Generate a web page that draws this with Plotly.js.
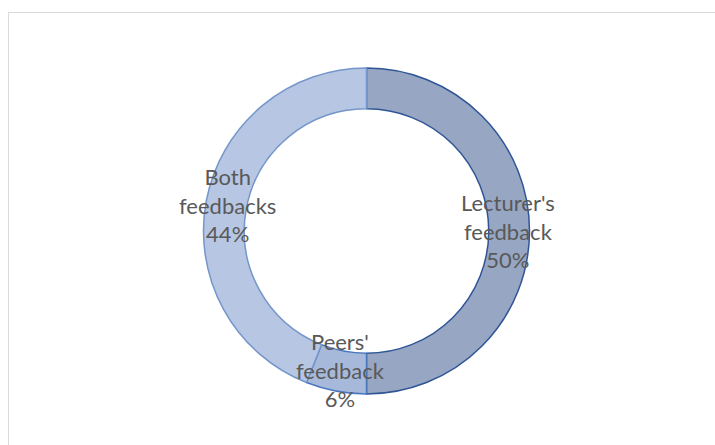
<!DOCTYPE html>
<html>
<head>
<meta charset="utf-8">
<script src="https://cdn.plot.ly/plotly-3.0.1.min.js"></script>
<style>
  html, body { margin: 0; padding: 0; background: #ffffff; overflow: hidden; }
  #chart { width: 715px; height: 445px; position: absolute; left: 0; top: 0; }
  #frame { position: absolute; left: 8px; top: 12px; width: 760px; height: 500px;
           border-left: 1.5px solid #d9d9d9; border-top: 1.5px solid #d9d9d9; pointer-events: none; }
</style>
</head>
<body>
<div id="chart"></div>
<div id="frame"></div>
<script>
// Data
const categories = ["Lecturer's feedback", "Peers' feedback", "Both feedbacks"];
const labelLines = [["Lecturer's", "feedback"], ["Peers'", "feedback"], ["Both", "feedbacks"]];
const values = [50, 6, 44];

// Styles
const sliceColors = ["#97a6c3", "#a7b9db", "#b6c6e3"];
const lineColors = ["#2f5597", "#4a78bd", "#7596ca"];

const W = 715, H = 445;
const cx = 366.5, cy = 231, R = 163;
const hole = 0.75;
const labelR = 141;

const total = values.reduce((a, b) => a + b, 0);
let cum = 0;
const annotations = values.map((v, i) => {
  const mid = (cum + v / 2) / total;
  cum += v;
  const ang = 2 * Math.PI * mid;
  const px = cx + labelR * Math.sin(ang);
  const py = cy - labelR * Math.cos(ang);
  const pct = Math.round(v / total * 100) + "%";
  return {
    x: px / W, y: 1 - py / H, xref: "paper", yref: "paper",
    text: labelLines[i].concat([pct]).join("<br>"),
    showarrow: false, xanchor: "center", yanchor: "middle",
    font: { family: "Lato, 'Liberation Sans', sans-serif", size: 22, color: "#595959" }
  };
});

const trace = {
  type: "pie",
  labels: categories,
  values: values,
  hole: hole,
  sort: false,
  direction: "clockwise",
  rotation: 0,
  textinfo: "none",
  hoverinfo: "none",
  marker: { colors: sliceColors, line: { color: lineColors, width: 1.5 } },
  domain: { x: [(cx - R) / W, (cx + R) / W], y: [1 - (cy + R) / H, 1 - (cy - R) / H] }
};

const layout = {
  width: W, height: H,
  margin: { l: 0, r: 0, t: 0, b: 0 },
  paper_bgcolor: "#ffffff",
  showlegend: false,
  annotations: annotations
};

Plotly.newPlot("chart", [trace], layout, { displayModeBar: false, staticPlot: true });
</script>
</body>
</html>
